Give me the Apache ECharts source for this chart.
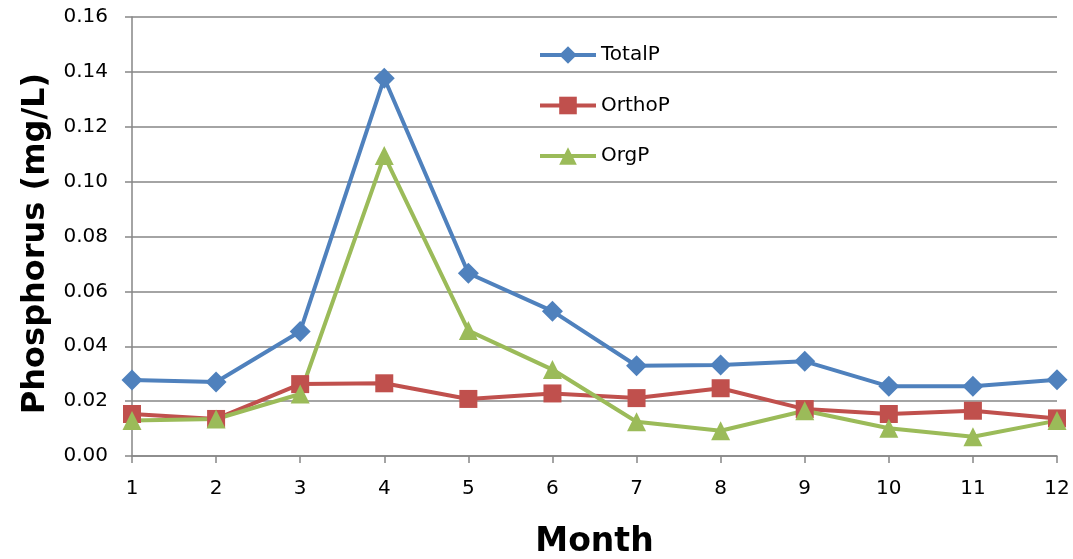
<!DOCTYPE html>
<html><head><meta charset="utf-8">
<script src="https://cdn.jsdelivr.net/npm/echarts@6/dist/echarts.min.js"></script>
<style>html,body{margin:0;padding:0;background:#fff}#c{width:1073px;height:559px}</style>
</head><body><div id="c"></div>
<script>
const months = ['1','2','3','4','5','6','7','8','9','10','11','12'];
const totalP = [0.0277,0.0270,0.0454,0.1377,0.0666,0.0528,0.0329,0.0332,0.0345,0.0254,0.0254,0.0278];
const orthoP = [0.0153,0.0135,0.0262,0.0265,0.0208,0.0228,0.0211,0.0247,0.0171,0.0153,0.0165,0.0137];
const orgP   = [0.0129,0.0135,0.0226,0.1095,0.0457,0.0315,0.0125,0.0092,0.0165,0.0101,0.0070,0.0129];
const yTicks = {min:0, max:0.16, interval:0.02};

const font = "'DejaVu Sans', 'Noto Sans', sans-serif";
const chart = echarts.init(document.getElementById('c'));
const mk = (name, data, color, symbol, size) => ({
  name, type:'line', data, symbol, symbolSize:size,
  lineStyle:{width:4, color}, itemStyle:{color}, showSymbol:true
});
chart.setOption({
  animation:false,
  textStyle:{fontFamily:font},
  grid:{left:132, right:16, top:17, bottom:103, containLabel:false, outerBoundsMode:'none'},
  legend:{
    orient:'vertical', left:538, top:45, padding:0, itemWidth:56, itemHeight:22, itemGap:30.5,
    lineStyle:{width:4},
    textStyle:{fontSize:20, color:'#000', fontFamily:font},
    data:['TotalP','OrthoP','OrgP']
  },
  xAxis:{
    type:'category', data:months, boundaryGap:false,
    name:'Month', nameLocation:'middle', nameGap:70,
    nameTextStyle:{fontSize:33, fontWeight:'bold', color:'#000', fontFamily:font},
    axisLine:{lineStyle:{color:'#868686', width:1.5}},
    axisTick:{show:true, length:7, lineStyle:{color:'#868686', width:1.5}, alignWithLabel:true},
    axisLabel:{fontSize:20, color:'#000', margin:23, fontFamily:font},
    splitLine:{show:false}
  },
  yAxis:{
    type:'value', min:yTicks.min, max:yTicks.max, interval:yTicks.interval,
    name:'Phosphorus (mg/L)', nameLocation:'middle', nameGap:80,
    nameTextStyle:{fontSize:32, fontWeight:'bold', color:'#000', fontFamily:font, padding:[0,14,0,0]},
    axisLine:{show:true, lineStyle:{color:'#868686', width:1.5}},
    axisTick:{show:true, length:7, lineStyle:{color:'#868686', width:1.5}},
    axisLabel:{fontSize:20, color:'#000', margin:24, fontFamily:font, formatter:v=>v.toFixed(2)},
    splitLine:{show:true, lineStyle:{color:'#868686', width:1.5}}
  },
  series:[
    mk('TotalP', totalP, '#4F81BD', 'diamond', 21),
    mk('OrthoP', orthoP, '#C0504D', 'rect', 18),
    mk('OrgP', orgP, '#9BBB59', 'triangle', 19)
  ]
});
</script></body></html>
